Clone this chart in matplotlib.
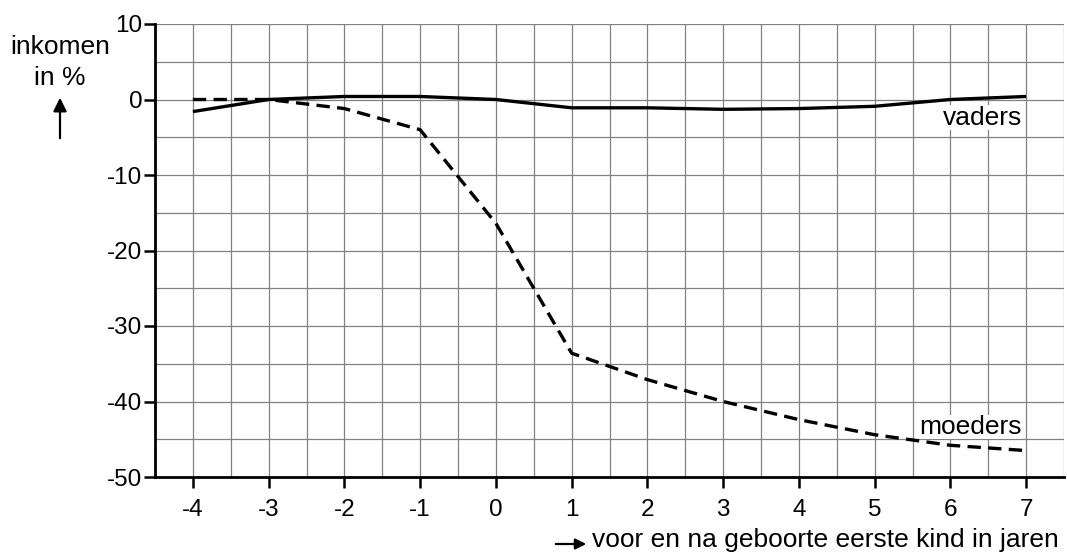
import matplotlib

matplotlib.use("Agg")
import matplotlib.pyplot as plt
import numpy as np

plt.rcParams["font.family"] = ["Liberation Sans", "DejaVu Sans"]
plt.rcParams["axes.unicode_minus"] = False

years = [-4, -3, -2, -1, 0, 1, 2, 3, 4, 5, 6, 7]
vaders = [-1.6, 0.0, 0.4, 0.4, 0.0, -1.1, -1.1, -1.3, -1.2, -0.9, 0.0, 0.4]
moeders = [0.0, 0.0, -1.2, -4.0, -16.4, -33.6, -37.1, -40.0, -42.4, -44.4, -45.8, -46.5]

fig = plt.figure(figsize=(10.67, 5.52), dpi=100)
ax = fig.add_axes([155 / 1067, 1 - 477 / 552, (1064 - 155) / 1067, (477 - 24) / 552])

ax.set_xlim(-4.5, 7.5)
ax.set_ylim(-50, 10)

ax.set_xticks(np.arange(-4.5, 7.51, 0.5), minor=True)
ax.set_yticks(np.arange(-50, 10.1, 5), minor=True)
ax.set_xticks(years)
ax.set_yticks(range(-50, 11, 10))
ax.grid(which="both", color="#808080", linewidth=0.9)
ax.tick_params(which="minor", length=0)
ax.tick_params(which="major", length=8, width=1.8, labelsize=17.5)
ax.tick_params(axis="x", pad=8)
ax.tick_params(axis="y", pad=1)

for side in ["top", "right"]:
    ax.spines[side].set_visible(False)
for side in ["left", "bottom"]:
    ax.spines[side].set_linewidth(2)

ax.plot(years, vaders, color="black", linewidth=2.4, solid_capstyle="butt")
ax.plot(years, moeders, color="black", linewidth=2.4, linestyle=(0, (4, 2.2)))

ax.text(6.42, -2.4, "vaders", fontsize=19, ha="center", va="center",
        bbox=dict(facecolor="white", edgecolor="none", pad=0.2))
ax.text(6.26, -43.4, "moeders", fontsize=19, ha="center", va="center",
        bbox=dict(facecolor="white", edgecolor="none", pad=0.2))

# y-as label with arrow
fig.text(60 / 1067, 1 - 47 / 552, "inkomen", fontsize=19, ha="center", va="center")
fig.text(60 / 1067, 1 - 78 / 552, "in %", fontsize=19, ha="center", va="center")
fig.patches.append(matplotlib.patches.FancyArrowPatch(
    (60 / 1067, 1 - 141 / 552), (60 / 1067, 1 - 95 / 552),
    transform=fig.transFigure, arrowstyle="-|>", mutation_scale=20,
    color="black", linewidth=1.6))

# x-as label with arrow
fig.patches.append(matplotlib.patches.FancyArrowPatch(
    (553 / 1067, 1 - 544 / 552), (589 / 1067, 1 - 544 / 552),
    transform=fig.transFigure, arrowstyle="-|>", mutation_scale=16,
    color="black", linewidth=1.6))
fig.text(592 / 1067, 1 - 540 / 552, "voor en na geboorte eerste kind in jaren",
         fontsize=19, ha="left", va="center")

fig.savefig("out.png", dpi=100)
